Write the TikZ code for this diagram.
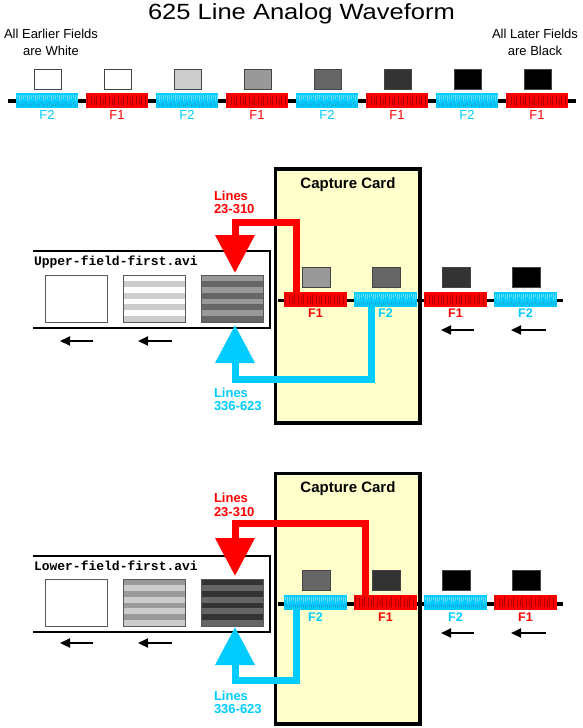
\documentclass[tikz,border=0pt]{standalone}
\usepackage{fontspec}
\setmainfont{Liberation Sans}
\newfontfamily\avimono{Liberation Mono}
\usetikzlibrary{arrows.meta,calc}
\definecolor{fred}{HTML}{FF0000}
\definecolor{fredd}{HTML}{B00000}
\definecolor{fcyan}{HTML}{00CCFF}
\definecolor{fcyand}{HTML}{1AA8D8}
\definecolor{fcyanl}{HTML}{66DDFF}
\definecolor{cardyellow}{HTML}{FFFFCC}
\definecolor{boxedge}{HTML}{444444}
\begin{document}
\begin{tikzpicture}[x=1pt,y=-1pt,
 every node/.style={inner sep=0pt, outer sep=0pt},
 seg/.style={rectangle, minimum width=62pt, minimum height=15pt},
 redseg/.style={seg, fill=fred, path picture={\foreach \i in {0,...,19}{\pgfmathtruncatemacro\rr{mod(\i*7,5)}\pgfmathtruncatemacro\qq{mod(\i,3)}\draw[draw=fredd,line width=1pt] ($(path picture bounding box.north west)+(1.5+\i*3+\qq*0.5,1.5+\qq*1.5)$) -- ++(0,11-\qq*2+\rr*0.2);}}},
 cyanseg/.style={seg, fill=fcyan, path picture={\foreach \i in {0,...,30}{\pgfmathtruncatemacro\rr{mod(\i*3,4)}\draw[fcyanl,line width=0.35pt] ($(path picture bounding box.north west)+(1.2+\i*2,2)$) -- ++(0,3+\rr);\draw[fcyand,line width=0.35pt] ($(path picture bounding box.north west)+(1.2+\i*2,9+\rr*0.5)$) -- ++(0,3);}}},
 fbox/.style={draw=boxedge, line width=1pt, minimum width=27pt, minimum height=20pt, fill=#1},
 card/.style={draw=black, line width=3.5pt, fill=cardyellow, minimum width=144.5pt},
 frm/.style 2 args={draw=black!65, line width=1pt, minimum width=62pt, minimum height=47pt,
   path picture={\fill[#1] (path picture bounding box.north west) rectangle (path picture bounding box.south east);
     \foreach \k in {0,...,3}{\fill[#2] ($(path picture bounding box.north west)+(0,\k*11.75+5.875)$) rectangle ++(62,5.875);}}},
 avibox/.style={draw=black, line width=2.2pt, line join=miter},
 stripline/.style={draw=black, line width=3.5pt},
 smallarr/.style={draw=black, line width=2.2pt, -{Triangle[length=10pt,width=9pt]}},
 bigred/.style={draw=fred, line width=7pt, line join=miter, -{Triangle[length=38pt,width=38pt]}},
 bigcyan/.style={draw=fcyan, line width=7pt, line join=miter, -{Triangle[length=38pt,width=38pt]}},
 flab/.style={font=\fontsize{13}{15}\selectfont, anchor=base},
 blab/.style={font=\bfseries\fontsize{12.5}{15}\selectfont, anchor=base},
 lineslab/.style={font=\bfseries\fontsize{13}{13.4}\selectfont, anchor=north west, align=left},
 avilab/.style={font=\avimono\bfseries\fontsize{13}{15}\selectfont, anchor=base west},
 cardlab/.style={font=\bfseries\fontsize{15}{18}\selectfont, anchor=base},
 sidelab/.style={font=\fontsize{13}{16.7}\selectfont, align=center, anchor=north}
]
\useasboundingbox (0,0) rectangle (582,728);

% ---------- header ----------
\node[font=\fontsize{22}{26}\selectfont, anchor=base, xscale=1.16] (title) at (301.5,19.5) {625 Line Analog Waveform};
\node[sidelab] (early) at (51,29) {All Earlier Fields\\are White};
\node[sidelab] (late) at (535,29) {All Later Fields\\are Black};

\coordinate (tl0) at (8,101);
\coordinate (tl1) at (576,101);
\draw[stripline] (tl0) -- (tl1);
\foreach \k/\st/\lab/\tc/\bx in {0/cyanseg/F2/fcyan/white, 1/redseg/F1/fred/white, 2/cyanseg/F2/fcyan/black!20, 3/redseg/F1/fred/black!40, 4/cyanseg/F2/fcyan/black!60, 5/redseg/F1/fred/black!80, 6/cyanseg/F2/fcyan/black, 7/redseg/F1/fred/black}{
  \node[\st] (t\k) at (47+70*\k,100.5) {};
  \node[fbox=\bx] (tb\k) at (48+70*\k,79) {};
  \node[flab, text=\tc] (tf\k) at (47+70*\k,119.3) {\lab};
}

% ---------- section 1 ----------
\node[card, minimum height=254pt] (card1) at (347.75,296) {};
\node[cardlab] (card1t) at (348,188) {Capture Card};
\coordinate (l1a) at (278,300.5);
\coordinate (l1b) at (563,300.5);
\draw[stripline] (l1a) -- (l1b);
\node[redseg, minimum width=63pt] (s1a) at (315.5,299.5) {};
\node[cyanseg, minimum width=63pt] (s1b) at (385.5,299.5) {};
\node[redseg, minimum width=63pt] (s1c) at (455.5,299.5) {};
\node[cyanseg, minimum width=63pt] (s1d) at (525.5,299.5) {};
\node[fbox=black!40, minimum width=28pt] (b1a) at (316.5,277) {};
\node[fbox=black!60, minimum width=28pt] (b1b) at (386.5,277) {};
\node[fbox=black!80, minimum width=28pt] (b1c) at (456.5,277) {};
\node[fbox=black, minimum width=28pt] (b1d) at (526.5,277) {};
\node[blab, text=fred] (f1a) at (315.5,317.3) {F1};
\node[blab, text=fcyan] (f1b) at (385.5,317.3) {F2};
\node[blab, text=fred] (f1c) at (455.5,317.3) {F1};
\node[blab, text=fcyan] (f1d) at (525.5,317.3) {F2};
\draw[smallarr] (474,330) -- (441,330);
\draw[smallarr] (546,330) -- (511,330);

\draw[avibox] (33,251) -- (270,251) -- (270,328) -- (33,328);
\node[avilab] (avi1) at (34,265) {Upper-field-first.avi};
\node[frm={white}{white}] (fr1a) at (76,298.5) {};
\node[frm={white}{black!20}] (fr1b) at (154,298.5) {};
\node[frm={black!40}{black!60}] (fr1c) at (232,298.5) {};
\draw[smallarr] (93,341) -- (60,341);
\draw[smallarr] (172,341) -- (138,341);

\coordinate (r1tip) at (235,273);
\coordinate (c1tip) at (235,325);
\draw[bigred] ($(s1a.north west)+(12,0)$) -- ++(0,-70) -| (r1tip);
\draw[bigcyan] ($(s1b.south west)+(17,0)$) -- ++(0,72.5) -| (c1tip);
\node[lineslab, text=fred] (r1lab) at (214,190.7) {Lines\\23-310};
\node[lineslab, text=fcyan] (c1lab) at (214,387.7) {Lines\\336-623};

% ---------- section 2 ----------
\node[card, minimum height=250.5pt] (card2) at (347.75,598.75) {};
\node[cardlab] (card2t) at (348,492) {Capture Card};
\coordinate (l2a) at (278,604);
\coordinate (l2b) at (563,604);
\draw[stripline] (l2a) -- (l2b);
\node[cyanseg, minimum width=63pt] (s2a) at (315.5,602) {};
\node[redseg, minimum width=63pt] (s2b) at (385.5,602) {};
\node[cyanseg, minimum width=63pt] (s2c) at (455.5,602) {};
\node[redseg, minimum width=63pt] (s2d) at (525.5,602) {};
\node[fbox=black!60, minimum width=28pt] (b2a) at (316.5,580) {};
\node[fbox=black!80, minimum width=28pt] (b2b) at (386.5,580) {};
\node[fbox=black, minimum width=28pt] (b2c) at (456.5,580) {};
\node[fbox=black, minimum width=28pt] (b2d) at (526.5,580) {};
\node[blab, text=fcyan] (f2a) at (315.5,621.5) {F2};
\node[blab, text=fred] (f2b) at (385.5,621.5) {F1};
\node[blab, text=fcyan] (f2c) at (455.5,621.5) {F2};
\node[blab, text=fred] (f2d) at (525.5,621.5) {F1};
\draw[smallarr] (474,633) -- (441,633);
\draw[smallarr] (546,633) -- (511,633);

\draw[avibox] (33,556) -- (270,556) -- (270,632) -- (33,632);
\node[avilab] (avi2) at (34,570) {Lower-field-first.avi};
\node[frm={white}{white}] (fr2a) at (76,602.5) {};
\node[frm={black!40}{black!20}] (fr2b) at (154,602.5) {};
\node[frm={black!80}{black!60}] (fr2c) at (232,602.5) {};
\draw[smallarr] (93,643) -- (60,643);
\draw[smallarr] (172,643) -- (138,643);

\coordinate (r2tip) at (235,576);
\coordinate (c2tip) at (235,627);
\draw[bigred] ($(s2b.north west)+(11.5,0)$) -- ++(0,-71) -| (r2tip);
\draw[bigcyan] ($(s2a.south west)+(12,0)$) -- ++(0,71) -| (c2tip);
\node[lineslab, text=fred] (r2lab) at (214,493.3) {Lines\\23-310};
\node[lineslab, text=fcyan] (c2lab) at (214,690.7) {Lines\\336-623};
\end{tikzpicture}
\end{document}
